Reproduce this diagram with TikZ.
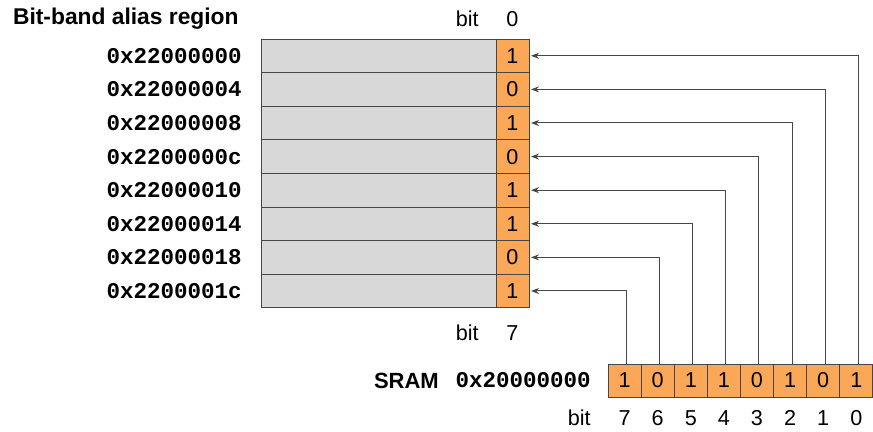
\documentclass[tikz,border=0pt]{standalone}
\usepackage{fontspec}
\setsansfont{Liberation Sans}
\setmonofont{Liberation Mono}
\usepackage{xcolor}
\usepackage{tikz}
\usetikzlibrary{arrows.meta, positioning}

\definecolor{bitorange}{RGB}{250,168,88}
\definecolor{shadegray}{RGB}{216,216,216}
\definecolor{linegray}{RGB}{70,70,70}

\begin{document}
\begin{tikzpicture}[
    x=0.5pt, y=-0.5pt,
    font=\sffamily\fontsize{10.8}{13}\selectfont,
    % styles
    alias_row/.style={
        draw=linegray, fill=shadegray, minimum width=117.5pt, minimum height=16.8pt,
        inner sep=0pt, outer sep=0pt
    },
    bit_cell/.style={
        draw=linegray, fill=bitorange, minimum width=16.5pt, minimum height=16.8pt,
        inner sep=0pt, outer sep=0pt
    },
    sram_cell/.style={
        draw=linegray, fill=bitorange, minimum width=16.55pt, minimum height=16.5pt,
        inner sep=0pt, outer sep=0pt
    },
    addr/.style={
        inner sep=0pt, font=\ttfamily\bfseries\fontsize{11.25}{13}\selectfont
    },
    bit_label/.style={
        inner sep=0pt
    },
    map_arrow/.style={
        -{Stealth[length=4pt, width=3pt]}, draw=linegray, line width=0.5pt, shorten >=1pt
    }
]
    \useasboundingbox (0,0) rectangle (873,432);

    % --- 1. BIT-BAND ALIAS REGION ---
    \node[anchor=west, inner sep=0pt, font=\sffamily\bfseries\fontsize{11.4}{13}\selectfont] (alias_title) at (12.7, 19) {Bit-band alias region};

    \node[alias_row, anchor=north west] (a0) at (261, 39) {};
    \node[alias_row, below=0pt of a0] (a1) {};
    \node[alias_row, below=0pt of a1] (a2) {};
    \node[alias_row, below=0pt of a2] (a3) {};
    \node[alias_row, below=0pt of a3] (a4) {};
    \node[alias_row, below=0pt of a4] (a5) {};
    \node[alias_row, below=0pt of a5] (a6) {};
    \node[alias_row, below=0pt of a6] (a7) {};

    % bit 0 column of each alias word
    \node[bit_cell, right=0pt of a0] (b0) {1};
    \node[bit_cell, right=0pt of a1] (b1) {0};
    \node[bit_cell, right=0pt of a2] (b2) {1};
    \node[bit_cell, right=0pt of a3] (b3) {0};
    \node[bit_cell, right=0pt of a4] (b4) {1};
    \node[bit_cell, right=0pt of a5] (b5) {1};
    \node[bit_cell, right=0pt of a6] (b6) {0};
    \node[bit_cell, right=0pt of a7] (b7) {1};

    % addresses
    \node[addr, left=9.5pt of a0] (addr0) {0x22000000};
    \node[addr, left=9.5pt of a1] (addr1) {0x22000004};
    \node[addr, left=9.5pt of a2] (addr2) {0x22000008};
    \node[addr, left=9.5pt of a3] (addr3) {0x2200000c};
    \node[addr, left=9.5pt of a4] (addr4) {0x22000010};
    \node[addr, left=9.5pt of a5] (addr5) {0x22000014};
    \node[addr, left=9.5pt of a6] (addr6) {0x22000018};
    \node[addr, left=9.5pt of a7] (addr7) {0x2200001c};

    % bit numbers of the alias column
    \node[bit_label, above=6pt of b0] (top_num) {0};
    \node[bit_label, left=13.5pt of top_num] (top_bit) {bit};
    \node[bit_label, below=8.5pt of b7] (mid_num) {7};
    \node[bit_label, left=13.5pt of mid_num] (mid_bit) {bit};

    % --- 2. SRAM BYTE ---
    \node[sram_cell, anchor=north west] (s7) at (608, 364) {1};
    \node[sram_cell, right=0pt of s7] (s6) {0};
    \node[sram_cell, right=0pt of s6] (s5) {1};
    \node[sram_cell, right=0pt of s5] (s4) {1};
    \node[sram_cell, right=0pt of s4] (s3) {0};
    \node[sram_cell, right=0pt of s3] (s2) {1};
    \node[sram_cell, right=0pt of s2] (s1) {0};
    \node[sram_cell, right=0pt of s1] (s0) {1};

    \node[addr, left=8.5pt of s7] (sram_addr) {0x20000000};
    \node[inner sep=0pt, left=8pt of sram_addr, font=\sffamily\bfseries\fontsize{11}{13}\selectfont] (sram_label) {SRAM};

    % bit numbers of the byte
    \node[bit_label, below=6.5pt of s7] (l7) {7};
    \node[bit_label, below=6.5pt of s6] (l6) {6};
    \node[bit_label, below=6.5pt of s5] (l5) {5};
    \node[bit_label, below=6.5pt of s4] (l4) {4};
    \node[bit_label, below=6.5pt of s3] (l3) {3};
    \node[bit_label, below=6.5pt of s2] (l2) {2};
    \node[bit_label, below=6.5pt of s1] (l1) {1};
    \node[bit_label, below=6.5pt of s0] (l0) {0};
    \node[bit_label, left=13.5pt of l7] (low_bit) {bit};

    % --- 3. MAPPING ---
    \draw[map_arrow] ([xshift=1pt]s0.north) |- (b0.east);
    \draw[map_arrow] ([xshift=1pt]s1.north) |- (b1.east);
    \draw[map_arrow] ([xshift=1pt]s2.north) |- (b2.east);
    \draw[map_arrow] ([xshift=1pt]s3.north) |- (b3.east);
    \draw[map_arrow] ([xshift=1pt]s4.north) |- (b4.east);
    \draw[map_arrow] ([xshift=1pt]s5.north) |- (b5.east);
    \draw[map_arrow] ([xshift=1pt]s6.north) |- (b6.east);
    \draw[map_arrow] ([xshift=1pt]s7.north) |- (b7.east);

\end{tikzpicture}
\end{document}
